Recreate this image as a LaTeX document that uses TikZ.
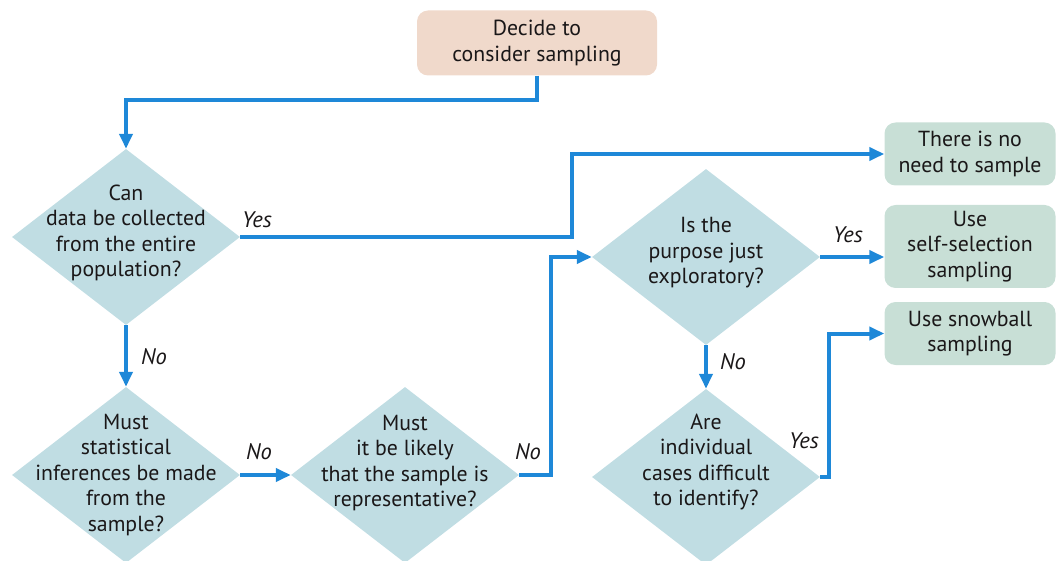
\documentclass[tikz,border=0pt]{standalone}
\usepackage{fontspec}
\setmainfont{PT Sans}
\usetikzlibrary{shapes.geometric,arrows.meta}
\definecolor{flowblue}{HTML}{1E88D8}
\definecolor{diafill}{HTML}{C0DDE3}
\definecolor{startfill}{HTML}{F0D9CB}
\definecolor{endfill}{HTML}{C8DFD6}
\definecolor{ink}{HTML}{1A1718}
\begin{document}
\begin{tikzpicture}[x=1pt,y=-1pt,
  txt/.style={text=ink,font=\fontsize{21.8}{25.5}\selectfont,align=center},
  decision/.style={diamond,fill=diafill,minimum width=228pt,minimum height=176pt,inner sep=0pt},
  dtext/.style={txt},
  startbox/.style={txt,rounded corners=11pt,fill=startfill,minimum width=240pt,minimum height=65pt,inner sep=0pt},
  endbox/.style={txt,rounded corners=11pt,fill=endfill,minimum width=171pt,inner sep=0pt},
  lab/.style={text=ink,font=\fontsize{22.5}{24}\selectfont\itshape,inner sep=0pt},
  arr/.style={draw=flowblue,line width=4pt,-{Triangle[length=15pt,width=13pt]}}]
\useasboundingbox (0,0) rectangle (1057,561);

% start and end boxes
\node[startbox] (start) at (537,43) {Decide to\\consider sampling};
\node[endbox,minimum height=63pt] (nosample) at (970,154) {There is no\\need to sample};
\node[endbox,minimum height=83pt] (selfsel) at (970,246.5) {Use\\self-selection\\sampling};
\node[endbox,minimum height=63pt] (snowball) at (970,333.5) {Use snowball\\sampling};

% decision diamonds
\node[decision] (d1) at (126,237) {};
\node[decision] (d2) at (126,475) {};
\node[decision] (d3) at (405,475) {};
\node[decision] (d4) at (706,257) {};
\node[decision] (d5) at (706,477) {};

\node[dtext,yshift=4pt] (t1) at (d1) {Can\\data be collected\\from the entire\\population?};
\node[dtext] (t2) at (d2) {Must\\statistical\\inferences be made\\from the\\sample?};
\node[dtext,yshift=12pt] (t3) at (d3) {Must\\it be likely\\that the sample is\\representative?};
\node[dtext,yshift=4pt] (t4) at (d4) {Is the\\purpose just\\exploratory?};
\node[dtext,yshift=15pt] (t5) at (d5) {Are\\individual\\cases difficult\\to identify?};

% bend points of the connectors
\coordinate (j1) at (0,100);
\coordinate (j2) at (572,0);
\coordinate (j3) at (551,0);
\coordinate (j4) at (829,0);

% connectors
\draw[arr] (start.south) -- (start.south |- j1) -| (d1.north);
\draw[arr] (d1.east) -| (j2 |- nosample.west) -- (nosample.west);
\draw[arr] (d1.south) -- (d2.north);
\draw[arr] (d2.east) -- (d3.west);
\draw[arr] (d3.east) -| (j3 |- d4.west) -- (d4.west);
\draw[arr] (d4.east) -- (d4.east -| selfsel.west);
\draw[arr] (d4.south) -- (d5.north);
\draw[arr] (d5.east) -| (j4 |- snowball.west) -- (snowball.west);

% branch labels
\node[lab] (y1) at (257,220) {Yes};
\node[lab] (n1) at (154,357) {No};
\node[lab] (n2) at (259,452) {No};
\node[lab] (n3) at (528,452) {No};
\node[lab] (y2) at (848,235) {Yes};
\node[lab] (n4) at (733,362) {No};
\node[lab] (y3) at (804,441) {Yes};
\end{tikzpicture}
\end{document}
